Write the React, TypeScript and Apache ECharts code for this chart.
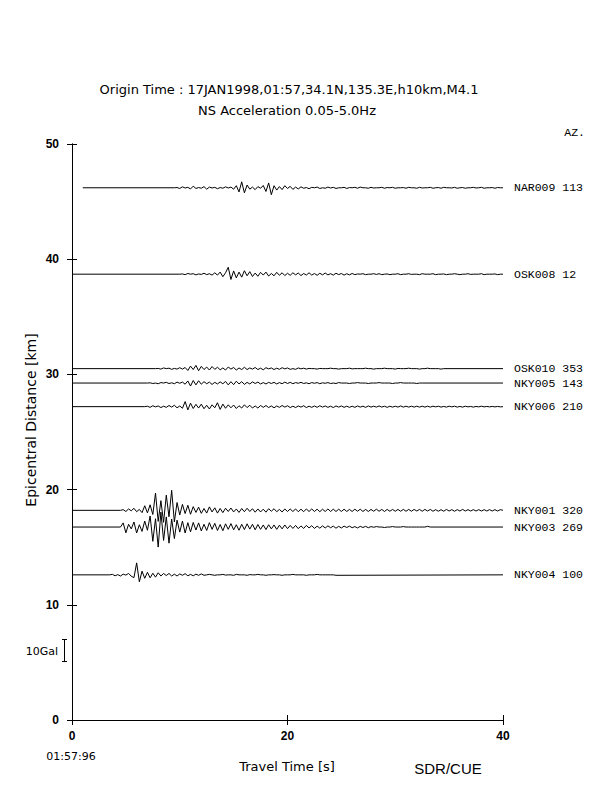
import React, { useEffect, useRef } from "react";
import * as echarts from "echarts";

// ---------- data ----------
const stations = ["NAR009", "OSK008", "OSK010", "NKY005", "NKY006", "NKY001", "NKY003", "NKY004"];
const azimuths = [113, 12, 353, 143, 210, 320, 269, 100];
const distancesKm = [46.2, 38.7, 30.5, 29.25, 27.2, 18.2, 16.75, 12.6];
const traceStart = [1, 0, 0, 0, 0, 0, 0, 0];
const onsetTime = [9.5, 10.0, 7.75, 7.0, 6.75, 4.5, 4.5, 3.5];
const sampleStep = 0.25; // s
const galToKm = 0.2; // 10 Gal = 2 km on the distance axis
const xTicks = [0, 20, 40];
const yTicks = [0, 10, 20, 30, 40, 50];

// acceleration samples (Gal) read from the record, one every sampleStep after the onset
const accNAR009 = [
  0.1, -0.3, 0.4, -0.1, 0.2, -0.5, 0.7, -0.3, 0.1, -0.2, 0.5, -0.6, 0.3, -0.1, 0.2, -0.4, 0.1, -0.2, 0.4, -0.1, 0.3, -0.6, 0.9,
  -1.8, 2.6, -2.2, 1.2, -0.6,
  0.3, -0.8, 0.5, -0.2, 1.0,
  -1.6, 2.1, -3.0, 0.9,
  -1.0, 0.5, -0.8, 0.9, -0.3, 0.6, -0.7, 0.3, -0.5,
  0.4, -0.2, 0.1, -0.4, 0.2, 0, 0.3, -0.3, 0, -0.2,
  0.3, -0.1, 0.2, -0.3, 0, 0, 0.2, -0.3, 0.1, 0,
  0.2, -0.2, 0.3, 0, 0, -0.2, 0.2, -0.1, 0, 0,
  0.2, -0.2, 0.1, 0, 0.2, -0.2, 0, 0, 0.1, -0.2,
  0.2, 0, 0, -0.2, 0.2, -0.1, 0, 0, 0.2, -0.2,
  0, 0.1, -0.2, 0.2, 0, 0, -0.1, 0.2, -0.2, 0,
  0.1, -0.2, 0, 0, 0.2, -0.1, 0, 0.2, -0.2, 0,
  0, 0.1, -0.2, 0.1, 0,
];
const accOSK008 = [
  0.1, -0.2, 0.3, 0, 0.2, -0.3, 0.1, -0.1, 0.4, -0.2, 0.2, -0.4, 0.6,
  -0.4, 0.9, -1.1, 0.6,
  3.0, -2.3, 1.4,
  -1.6, 0.9, -1.3, 1.5, -0.7, 1.1,
  -1.0, 0.5, -0.9, 0.8, -0.4, 0.9, -0.8, 0.3, -0.7, 0.8, -0.5, 0.6, -0.6, 0.4,
  -0.5, 0.6, -0.3, 0.5, -0.6, 0.3, -0.4, 0.6, -0.4, 0.3, -0.5, 0.4,
  -0.3, 0.5, -0.3, 0.2, -0.4, 0.4, -0.2, 0.3, -0.4, 0.2, -0.3, 0.3,
  -0.2, 0.1, 0, 0.2, -0.2, 0, 0, 0.2, -0.1, 0.2,
  -0.2, 0, 0.1, -0.2, 0, 0, 0.2, -0.2, 0, 0,
  0.2, -0.1, 0, 0, -0.2, 0.2, 0, 0, 0, 0.2,
  -0.2, 0, 0, 0.1, -0.2, 0, 0, 0.2, 0, -0.2,
  0, 0, 0.2, -0.1, 0, 0, 0, 0.2, -0.2, 0,
  0, 0, 0.1, -0.2, 0,
];
const accOSK010 = [
  0.1, -0.2, 0.3, 0, 0.2, -0.3, 0.1, -0.2, 0.4, -0.2, 0.5,
  -0.8, 1.1, -0.4, 1.4, -0.9,
  1.0, -0.4, 0.7, -0.6, 0.9,
  -0.3, 0.6, -0.5, 0.3, -0.6, 0.7, -0.2, 0.5, -0.6, 0.3, -0.4, 0.6,
  -0.4, 0.3, -0.2, 0.5, -0.4, 0.2, -0.5, 0.4, -0.1, 0.3, -0.4, 0.2,
  -0.3, 0.4, -0.1, 0.3, -0.3, 0, -0.3, 0.3, -0.1, 0.2, -0.2, 0.1,
  0, 0, -0.2, 0.1, 0, 0, 0, 0.2, 0, 0,
  -0.2, 0, 0, 0, 0.2, -0.1, 0, 0, 0, 0,
  0.2, 0, 0, -0.2, 0, 0, 0, 0.2, 0, 0,
  0, -0.2, 0.1, 0, 0, 0, 0.2, 0, 0, 0,
  -0.2, 0, 0, 0.2, 0, 0, 0, 0, -0.2, 0,
];
const accNKY005 = [
  0.1, -0.2, 0, -0.3, 0.2, 0, 0.3, -0.2, 0.1, -0.3, 0.4, -0.1, 0.4, -0.5,
  0.9, -1.3, 1.1, -0.8, 1.0,
  -0.5, 0.6, -0.3, 0.4, -0.6, 0.3, -0.4, 0.5, -0.3,
  0.7, -0.8, 0.6, -0.7, 0.8, -0.4, 0.6, -0.6,
  0.3, -0.4, 0.5, -0.2, 0.4, -0.4, 0.2, -0.4, 0.3, -0.2,
  0.3, -0.4, 0.2, -0.3, 0.4, -0.2, 0.3, -0.3, 0.2, -0.1,
  0.3, -0.2, 0.1, -0.3, 0.2, -0.1, 0.2, -0.3, 0.1, -0.1,
  0.2, -0.2, 0, -0.2, 0.2, 0,
  0, 0, -0.2, 0, 0, 0.2, 0, 0, 0, -0.2,
  0, 0, 0, 0.2, 0, 0, 0, 0, -0.2, 0,
  0, 0.2, 0, 0, 0, 0, 0, -0.2, 0, 0,
];
const accNKY006 = [
  0.2, -0.3, 0.4, -0.1, 0.3, -0.4, 0.2, -0.3, 0.5, -0.2, 0.6, -0.5, 0.3, -0.7,
  2.2, -1.4, 1.5, -0.8,
  1.0, -0.6, 1.1, -0.9, 0.6, -1.0, 0.8, -0.5,
  1.7, -1.2, 1.1, -0.7,
  0.8, -0.5, 0.7, -0.8, 0.4, -0.6, 0.8, -0.4, 0.6, -0.6, 0.3, -0.6, 0.5, -0.3, 0.5,
  -0.4, 0.3, -0.5, 0.3, -0.3, 0.5, -0.2, 0.4, -0.4, 0.2,
  -0.4, 0.3, -0.2, 0.4, -0.4, 0.2, -0.3, 0.3, -0.3, 0.4,
  -0.2, 0.3, -0.3, 0.2, -0.4, 0.3, -0.2, 0.3, -0.3, 0.2,
  -0.3, 0.2, -0.3, 0.3, -0.2, 0.2, -0.3, 0.3, -0.2, 0.2,
  -0.2, 0.3, -0.2, 0.2, -0.3, 0.2, -0.2, 0.2, -0.2, 0.3,
  -0.2, 0.2, -0.2, 0.2, -0.2, 0.2, -0.2, 0.2, -0.2, 0.2,
  -0.2, 0.2, -0.1, 0.2, -0.2, 0.1, -0.2, 0.2, -0.1, 0.2,
  -0.2, 0.1, -0.2, 0.2, -0.1, 0.1, -0.2, 0.1, -0.1, 0.2,
  -0.1, 0.1, -0.1, 0.1, -0.1, 0.1, -0.1,
];
const accNKY001 = [
  0.3, -0.5, 0.6, -0.2, 0.9, -0.6, 0.4, -1.0,
  2.0, -1.1, 2.4, -1.8,
  7.5, -4.8, 4.2, -5.2, 6.6, -2.8, 8.7, -5.0,
  3.4, -2.0, 2.6, -1.4, 2.2, -1.7,
  1.6, -0.9, 1.4, -1.3, 0.8, -1.2, 1.5, -0.7, 1.1, -1.2, 0.8, -1.0,
  0.9, -0.5, 1.0, -0.7, 0.6, -0.9, 0.8, -0.6, 0.9, -0.5, 0.7, -0.8,
  0.6, -0.7, 0.5, -0.8, 0.7, -0.4, 0.7, -0.6, 0.4, -0.7, 0.6, -0.5,
  0.6, -0.5, 0.6, -0.6, 0.5, -0.6, 0.6, -0.5, 0.6, -0.5,
  0.5, -0.6, 0.5, -0.5, 0.6, -0.5, 0.5, -0.5, 0.5, -0.5,
  0.5, -0.5, 0.4, -0.5, 0.5, -0.4, 0.5, -0.5, 0.4, -0.5,
  0.4, -0.4, 0.5, -0.4, 0.4, -0.5, 0.4, -0.4, 0.4, -0.4,
  0.4, -0.4, 0.4, -0.4, 0.4, -0.4, 0.4, -0.3, 0.4, -0.4,
  0.4, -0.3, 0.4, -0.4, 0.3, -0.4, 0.3, -0.4, 0.4, -0.3,
  0.3, -0.4, 0.3, -0.3, 0.4, -0.3, 0.3, -0.3, 0.3, -0.3,
  0.3, -0.3, 0.3, -0.3, 0.3, -0.3, 0.3, -0.3, 0.3,
];
const accNKY003 = [
  1.8, -2.5, 1.2, -0.8, 2.2, -2.6, 1.0, -1.9, 2.6, -1.4,
  4.8, -6.2, 3.6, -8.7, 6.5, -5.8, 4.4, -7.0, 3.5, -5.0,
  3.0, -2.2, 2.6, -2.6, 1.9, -2.1,
  2.0, -1.3, 1.8, -1.7, 1.2, -1.5, 1.9, -1.0, 1.6, -1.5, 1.1, -1.6,
  1.4, -1.0, 1.5, -1.2, 1.0, -1.4, 1.2, -1.1, 1.4, -0.9, 1.2, -1.2,
  1.1, -1.0, 0.9, -1.1, 1.0, -0.8, 0.9, -1.0, 0.8, -0.8, 0.9, -0.7,
  0.7, -0.6, 0.7, -0.7, 0.5, -0.6, 0.7, -0.4, 0.6, -0.6, 0.4, -0.5, 0.5, -0.4, 0.5, -0.3,
  0.4, -0.5, 0.3, -0.4, 0.4, -0.2, 0.4, -0.3, 0.2, -0.4, 0.3, -0.2, 0.3, -0.3, 0.2, -0.1,
  0.2, 0, 0, -0.2, 0, 0, 0.2, 0, 0, 0, 0.2,
  0, 0, 0, 0, 0, 0, 0, 0, 0.3, 0, 0,
];
const accNKY004 = [
  0.2, -0.4, 0.1, -0.5, 0.3, -0.1, 0.6, -0.6,
  -1.2, 5.2, -3.0, 1.6,
  -1.5, 1.1, -1.3, 0.7, -1.0, 0.9,
  -0.5, 0.6, -0.3, 0.6, -0.5, 0.3, -0.5, 0.4, -0.2, 0.5, -0.4, 0.2, -0.4, 0.3, -0.2, 0.4,
  -0.2, 0, 0.2, 0, -0.2, 0, 0, 0.2, -0.1, 0,
  0, -0.2, 0.2, 0, 0, 0, -0.2, 0.1, 0, 0,
  0.2, 0, 0, -0.2, 0, 0, 0.1, 0, 0, -0.2,
  0, 0, 0, 0.2, 0, 0, 0, 0, -0.2, 0,
  0, 0, 0.2, 0, 0, 0, 0, 0, 0, -0.2,
];
const accRecords = [accNAR009, accOSK008, accOSK010, accNKY005, accNKY006, accNKY001, accNKY003, accNKY004];

// ---------- texts ----------
const titleLine1 = "Origin Time : 17JAN1998,01:57,34.1N,135.3E,h10km,M4.1";
const titleLine2 = "NS Acceleration 0.05-5.0Hz";
const xAxisTitle = "Travel Time [s]";
const yAxisTitle = "Epicentral Distance [km]";
const startClock = "01:57:96";
const credit = "SDR/CUE";
const azHeader = "AZ.";
const scaleLabel = "10Gal";

const SANS = "'Liberation Sans', Arial, Helvetica, sans-serif";
const WIDE = "'DejaVu Sans', 'Liberation Sans', sans-serif";
const MONO = "'Liberation Mono', 'DejaVu Sans Mono', monospace";

function buildSeries() {
  return stations.map((st, i) => {
    const d = distancesKm[i];
    const data: number[][] = [[traceStart[i], d], [onsetTime[i], d]];
    accRecords[i].forEach((a, k) => {
      const t = Number((onsetTime[i] + (k + 1) * sampleStep).toFixed(3));
      if (t < 40) data.push([t, Number((d + a * galToKm).toFixed(4))]);
    });
    data.push([40, d]);
    return {
      type: "line",
      name: st,
      data,
      showSymbol: false,
      symbol: "none",
      silent: true,
      clip: true,
      lineStyle: { color: "#000", width: 1 },
      endLabel: {
        show: true,
        formatter: `${st} ${azimuths[i]}`,
        distance: 11,
        color: "#000",
        fontFamily: MONO,
        fontSize: 11.5,
      },
    };
  });
}

export default function App() {
  const ref = useRef<HTMLDivElement>(null);
  useEffect(() => {
    const chart = echarts.init(ref.current!, null, { renderer: "svg", width: 612, height: 792 });
    const axisCommon = {
      axisLine: { show: true, lineStyle: { color: "#000", width: 1 } },
      axisTick: { show: true, inside: false, length: 5, lineStyle: { color: "#000", width: 1 } },
      splitLine: { show: false },
    };
    chart.setOption({
      animation: false,
      backgroundColor: "#fff",
      grid: { left: 72, top: 144, width: 431, height: 576, containLabel: false },
      xAxis: [
        {
          type: "value", position: "bottom", min: 0, max: 40, interval: 20,
          ...axisCommon,
          axisLabel: {
            color: "#000", fontFamily: SANS, fontSize: 12, fontWeight: "bold", margin: 10,
            formatter: (v: number) => (xTicks.includes(v) ? String(v) : ""),
          },
        },
        {
          type: "value", position: "top", min: 0, max: 40, interval: 20,
          ...axisCommon,
          axisLabel: { show: false },
        },
      ],
      yAxis: [
        {
          type: "value", position: "left", min: 0, max: 50, interval: 10,
          ...axisCommon,
          axisLabel: {
            color: "#000", fontFamily: SANS, fontSize: 12, fontWeight: "bold", margin: 13,
            formatter: (v: number) => (yTicks.includes(v) ? String(v) : ""),
          },
        },
        {
          type: "value", position: "right", min: 0, max: 50, interval: 10,
          ...axisCommon,
          axisLabel: { show: false },
        },
      ],
      series: buildSeries(),
      graphic: [
        { type: "text", x: 289, y: 89, style: { text: titleLine1, font: `13px ${WIDE}`, fill: "#000", textAlign: "center", textVerticalAlign: "middle" } },
        { type: "text", x: 287, y: 110, style: { text: titleLine2, font: `13px ${WIDE}`, fill: "#000", textAlign: "center", textVerticalAlign: "middle" } },
        { type: "text", x: 585, y: 132, style: { text: azHeader, font: `11.5px ${MONO}`, fill: "#000", textAlign: "right", textVerticalAlign: "middle" } },
        { type: "text", x: 31, y: 420, rotation: Math.PI / 2, style: { text: yAxisTitle, font: `14px ${WIDE}`, fill: "#000", textAlign: "center", textVerticalAlign: "middle" } },
        { type: "text", x: 287, y: 766, style: { text: xAxisTitle, font: `13px ${WIDE}`, fill: "#000", textAlign: "center", textVerticalAlign: "middle" } },
        { type: "text", x: 448, y: 768, style: { text: credit, font: `15px ${SANS}`, fill: "#000", textAlign: "center", textVerticalAlign: "middle" } },
        { type: "text", x: 71, y: 756, style: { text: startClock, font: `11px ${WIDE}`, fill: "#000", textAlign: "center", textVerticalAlign: "middle" } },
        { type: "text", x: 58, y: 651, style: { text: scaleLabel, font: `11px ${WIDE}`, fill: "#000", textAlign: "right", textVerticalAlign: "middle" } },
        { type: "line", shape: { x1: 64.5, y1: 639, x2: 64.5, y2: 662 }, style: { stroke: "#000", lineWidth: 1 } },
        { type: "line", shape: { x1: 62, y1: 639.5, x2: 67, y2: 639.5 }, style: { stroke: "#000", lineWidth: 1 } },
        { type: "line", shape: { x1: 62, y1: 661.5, x2: 67, y2: 661.5 }, style: { stroke: "#000", lineWidth: 1 } },
      ],
    });
    return () => chart.dispose();
  }, []);
  return (
    <div
      ref={ref}
      style={{ position: "absolute", left: 0, top: 0, width: 612, height: 792, background: "#fff" }}
    />
  );
}
